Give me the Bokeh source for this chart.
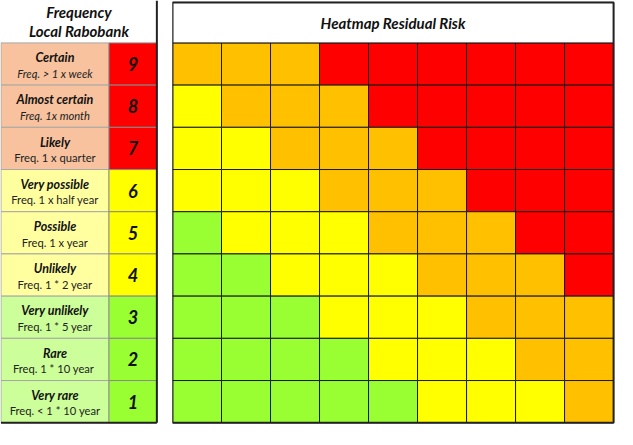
from bokeh.plotting import figure
from bokeh.models import ColumnDataSource, Range1d
from bokeh.layouts import row
from bokeh.core.properties import value
from bokeh.embed import file_html
from bokeh.resources import INLINE

# ---------------- data ----------------
likelihood = [9, 8, 7, 6, 5, 4, 3, 2, 1]
names = ["Certain", "Almost certain", "Likely", "Very possible", "Possible",
         "Unlikely", "Very unlikely", "Rare", "Very rare"]
freqs = ["Freq. > 1 x week", "Freq. 1x month", "Freq. 1 x quarter",
         "Freq. 1 x half year", "Freq. 1 x year", "Freq. 1 * 2 year",
         "Freq. 1 * 5 year", "Freq. 1 *  10 year", "Freq. < 1 * 10 year"]
freq_italic = [True, True, False, False, False, False, False, False, False]
band = ["R", "R", "R", "Y", "Y", "Y", "G", "G", "G"]
impact = [1, 2, 3, 4, 5, 6, 7, 8, 9]
# residual risk level per likelihood row (9 -> 1), per impact column (1 -> 9)
risk_grid = {
    9: ["O", "O", "O", "R", "R", "R", "R", "R", "R"],
    8: ["Y", "O", "O", "O", "R", "R", "R", "R", "R"],
    7: ["Y", "Y", "O", "O", "O", "R", "R", "R", "R"],
    6: ["Y", "Y", "Y", "O", "O", "O", "R", "R", "R"],
    5: ["G", "Y", "Y", "Y", "O", "O", "O", "R", "R"],
    4: ["G", "G", "Y", "Y", "Y", "O", "O", "O", "R"],
    3: ["G", "G", "G", "Y", "Y", "Y", "O", "O", "O"],
    2: ["G", "G", "G", "G", "Y", "Y", "Y", "O", "O"],
    1: ["G", "G", "G", "G", "G", "Y", "Y", "Y", "O"],
}
left_title = ["Frequency", "Local Rabobank"]
right_title = "Heatmap Residual Risk"

# ---------------- styles ----------------
level_color = {"G": "#99FF33", "Y": "#FFFF00", "O": "#FFC000", "R": "#FF0000"}
label_fill = {"R": "#F8C29E", "Y": "#FFFFA0", "G": "#CCFF99"}
num_fill = {"R": "#FF0000", "Y": "#FFFF00", "G": "#99FF33"}
FONT = value("Lato")
INK = "#111111"
Y0, Y1 = 0.34, 10.505
H = 429


def base(width, xr):
    p = figure(width=width, height=H, x_range=xr, y_range=Range1d(Y0, Y1),
               output_backend="svg", toolbar_location=None, min_border=0,
               tools="")
    p.axis.visible = False
    p.grid.visible = False
    p.outline_line_color = None
    p.background_fill_color = "white"
    p.border_fill_color = "white"
    return p


# ---------------- left table ----------------
left = base(172, Range1d(0, 176))
LX0, LX1, LX2 = 0.5, 111, 160
src_l = ColumnDataSource(dict(
    y=likelihood, name=names, freq=freqs,
    lab_col=[label_fill[b] for b in band],
    num_col=[num_fill[b] for b in band],
    num=[str(v) for v in likelihood],
    name_y=[v + 0.15 for v in likelihood],
    freq_y=[v - 0.22 for v in likelihood],
))
left.rect(x=(LX0 + LX1) / 2, y="y", width=LX1 - LX0, height=1, source=src_l,
          fill_color="lab_col", line_color="#A8A8A8", line_width=1)
left.rect(x=(LX1 + LX2) / 2, y="y", width=LX2 - LX1, height=1, source=src_l,
          fill_color="num_col", line_color="#8A8A8A", line_width=1)
left.text(x=(LX0 + LX1) / 2, y="name_y", text="name", source=src_l,
          text_font=FONT, text_font_style="bold italic", text_font_size="12.5px",
          text_align="center", text_baseline="middle", text_color=INK)
fi = [i for i, f in enumerate(freq_italic) if f]
fn = [i for i, f in enumerate(freq_italic) if not f]
for idx, style in ((fi, "italic"), (fn, "normal")):
    left.text(x=(LX0 + LX1) / 2, y=[likelihood[i] - 0.22 for i in idx],
              text=[freqs[i] for i in idx],
              text_font=FONT, text_font_style=style, text_font_size="11.2px",
              text_align="center", text_baseline="middle", text_color="#222222")
left.text(x=(LX1 + LX2) / 2, y="y", text="num", source=src_l,
          text_font=FONT, text_font_style="bold italic", text_font_size="18px",
          text_align="center", text_baseline="middle", text_color=INK)
left.text(x=(LX0 + LX2) / 2, y=[10.24, 9.78], text=left_title,
          text_font=FONT, text_font_style="bold italic", text_font_size="15px",
          text_align="center", text_baseline="middle", text_color=INK)
# table frame (right and bottom dark edges)
left.segment(x0=[LX2, LX0], y0=[0.5, 0.5], x1=[LX2, LX2], y1=[Y1, 0.5],
             line_color="#222222", line_width=2)

# ---------------- heatmap ----------------
right = base(445, Range1d(0.5, 9.58))
hx, hy, hc = [], [], []
for lk in likelihood:
    for im, lvl in zip(impact, risk_grid[lk]):
        hx.append(im)
        hy.append(lk)
        hc.append(level_color[lvl])
src_h = ColumnDataSource(dict(x=hx, y=hy, c=hc))
right.rect(x="x", y="y", width=1, height=1, source=src_h,
           fill_color="c", line_color="#1A1A1A", line_width=1)
right.quad(left=0.5, right=9.5, bottom=9.5, top=10.46,
           fill_color="white", line_color="#1A1A1A", line_width=1)
right.text(x=5, y=9.98, text=[right_title],
           text_font=FONT, text_font_style="bold italic", text_font_size="15px",
           text_align="center", text_baseline="middle", text_color=INK)
right.quad(left=0.5, right=9.5, bottom=0.5, top=10.46,
           fill_color=None, line_color="#222222", line_width=2)

layout = row(left, right)
open("out.html", "w").write(file_html(layout, INLINE))
